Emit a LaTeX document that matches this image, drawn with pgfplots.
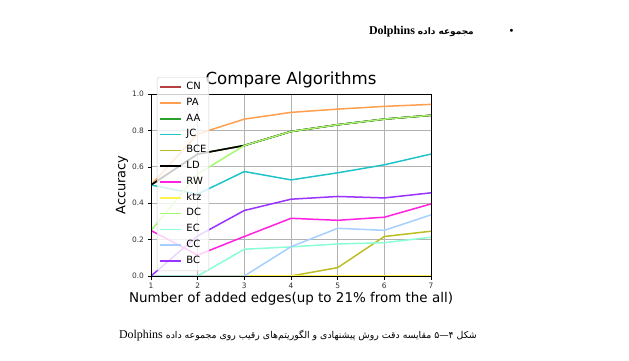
\documentclass[border=0pt]{standalone}
\usepackage{pgfplots}
\pgfplotsset{compat=1.18}
\usepackage{fontspec}
\setmainfont{DejaVu Sans}
\newfontfamily\arabicfont[Script=Arabic]{DejaVu Sans}
\newfontfamily\timesfont{Liberation Serif}
\TeXXeTstate=1
\definecolor{cCN}{HTML}{B5403F}
\definecolor{cPA}{HTML}{FF9F4F}
\definecolor{cAA}{HTML}{2CA02C}
\definecolor{cJC}{HTML}{20C4C8}
\definecolor{cBCE}{HTML}{BCBD22}
\definecolor{cLD}{HTML}{000000}
\definecolor{cRW}{HTML}{FF20E0}
\definecolor{cktz}{HTML}{FFF44F}
\definecolor{cDC}{HTML}{A8F870}
\definecolor{cEC}{HTML}{8AFFD5}
\definecolor{cCC}{HTML}{A6CFFF}
\definecolor{cBC}{HTML}{9933FF}
\begin{document}
\begin{tikzpicture}[x=1bp,y=1bp]
\useasboundingbox (0,0) rectangle (629,360);
% header
\node[anchor=base] at (511.5,326) {\fontsize{10}{12}\selectfont\textbullet};
\node[anchor=base east, inner sep=0pt] at (474,326) {\timesfont\bfseries\fontsize{12}{14}\selectfont Dolphins {\arabicfont\bfseries\fontsize{9}{12}\selectfont\beginR مجموعه داده\endR}};
% caption
\node[anchor=base east, inner sep=0pt] at (477,21.3) {\timesfont\fontsize{12}{14}\selectfont Dolphins {\arabicfont\fontsize{9.4}{11}\selectfont\beginR شکل ۴—۵ مقایسه دقت روش پیشنهادی و الگوریتم‌های رقیب روی مجموعه داده\endR}};
\begin{axis}[
  clip mode=individual,
  at={(151bp,84bp)}, anchor=south west,
  width=280bp, height=182bp, scale only axis,
  xmin=1, xmax=7, ymin=0, ymax=1,
  xtick={1,2,3,4,5,6,7},
  ytick={0,0.2,0.4,0.6,0.8,1},
  yticklabel style={/pgf/number format/.cd, fixed, fixed zerofill, precision=1},
  /pgf/number format/assume math mode=true,
  ticklabel style={font=\fontsize{7.5}{8}\selectfont, text=black!80},
  tick align=outside, major tick length=3.5bp,
  tick style={black, line width=0.6bp},
  xtick pos=bottom, ytick pos=left,
  grid=major,
  major grid style={color=black!30, line width=0.7bp},
  axis line style={black, line width=0.7bp},
  title={Compare Algorithms},
  title style={at={(axis description cs:0.5,1.022)}, anchor=base, font=\fontsize{16.7}{18}\selectfont, inner sep=0pt},
  xlabel={Number of added edges(up to 21\% from the all)},
  xlabel style={at={(axis description cs:0.5,-0.148)}, anchor=base, font=\fontsize{13.5}{15}\selectfont, inner sep=0pt},
  ylabel={Accuracy},
  ylabel style={at={(axis description cs:-0.0918,0.5)}, anchor=base, font=\fontsize{13}{15}\selectfont, inner sep=0pt},
  legend style={at={(axis description cs:0.0214,1.093)}, anchor=north west,
    draw=black!20, fill=white, fill opacity=0.8, text opacity=1, draw opacity=1,
    rounded corners=2bp, font=\fontsize{10}{11}\selectfont,
    inner xsep=2.5bp, inner ysep=5bp, row sep=6bp, column sep=0bp,
    nodes={inner sep=0pt, text height=7.3bp, text depth=2.5bp}},
  legend cell align=left,
  legend image code/.code={\draw[#1] (0bp,0bp) -- (21bp,0bp);},
  every axis plot/.append style={line width=1.5bp},
]
\addplot[cCN] coordinates {(1,0.5) (2,0.67) (3,0.717) (4,0.794) (5,0.831) (6,0.862) (7,0.883)};
\addlegendentry{\hspace{4.3bp}CN}
\addplot[cPA] coordinates {(1,0.5) (2,0.78) (3,0.862) (4,0.899) (5,0.917) (6,0.932) (7,0.943)};
\addlegendentry{\hspace{4.3bp}PA}
\addplot[cAA] coordinates {(1,0.5) (2,0.67) (3,0.717) (4,0.794) (5,0.831) (6,0.862) (7,0.883)};
\addlegendentry{\hspace{4.3bp}AA}
\addplot[cJC] coordinates {(1,0.5) (2,0.45) (3,0.574) (4,0.528) (5,0.567) (6,0.611) (7,0.67)};
\addlegendentry{\hspace{4.3bp}JC}
\addplot[cBCE] coordinates {(1,0) (2,0) (3,0) (4,0) (5,0.046) (6,0.217) (7,0.246)};
\addlegendentry{\hspace{4.3bp}BCE}
\addplot[cLD] coordinates {(1,0.5) (2,0.67) (3,0.717) (4,0.794) (5,0.831) (6,0.862) (7,0.883)};
\addlegendentry{\hspace{4.3bp}LD}
\addplot[cRW] coordinates {(1,0.25) (2,0.115) (3,0.217) (4,0.317) (5,0.306) (6,0.323) (7,0.396)};
\addlegendentry{\hspace{4.3bp}RW}
\addplot[cktz] coordinates {(1,0) (2,0) (3,0) (4,0) (5,0) (6,0) (7,0)};
\addlegendentry{\hspace{4.3bp}ktz}
\addplot[cDC] coordinates {(1,0.25) (2,0.56) (3,0.717) (4,0.794) (5,0.831) (6,0.862) (7,0.883)};
\addlegendentry{\hspace{4.3bp}DC}
\addplot[cEC] coordinates {(1,0) (2,0) (3,0.147) (4,0.16) (5,0.176) (6,0.183) (7,0.213)};
\addlegendentry{\hspace{4.3bp}EC}
\addplot[cCC] coordinates {(1,0) (2,0) (3,0) (4,0.161) (5,0.262) (6,0.251) (7,0.336)};
\addlegendentry{\hspace{4.3bp}CC}
\addplot[cBC] coordinates {(1,0) (2,0.22) (3,0.36) (4,0.422) (5,0.437) (6,0.429) (7,0.457)};
\addlegendentry{\hspace{4.3bp}BC}
\draw[black, line width=0.7bp] (rel axis cs:0,0) rectangle (rel axis cs:1,1);
\end{axis}
\end{tikzpicture}
\end{document}
